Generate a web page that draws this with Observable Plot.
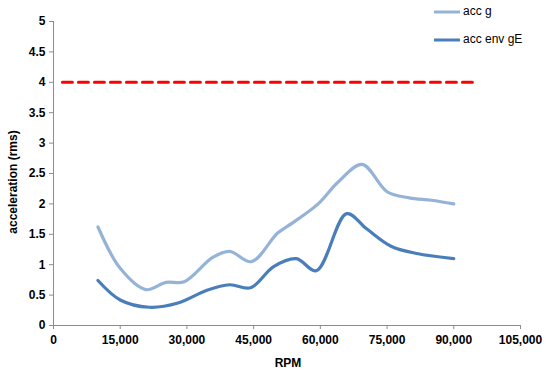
<!DOCTYPE html>
<html>
<head>
<meta charset="utf-8">
<script src="https://cdn.jsdelivr.net/npm/d3@7"></script>
<script src="https://cdn.jsdelivr.net/npm/@observablehq/plot@0.6"></script>
<style>
  html, body { margin: 0; padding: 0; background: #fff; }
  #chart { position: relative; width: 550px; height: 375px; }
  #chart svg { font-family: "Liberation Sans", Arial, sans-serif; }
  #chart svg g[aria-label$="tick label"] text { font-weight: bold; fill: #000; }
</style>
</head>
<body>
<div id="chart"></div>
<script>
// acc g series
const accG_rpm = [10000, 15000, 20750, 25300, 29400, 35800, 39600, 44500, 50400, 54000, 59500, 64000, 69400, 75000, 80000, 85000, 90000];
const accG_val = [1.62, 0.94, 0.59, 0.71, 0.72, 1.12, 1.22, 1.05, 1.52, 1.70, 2.00, 2.36, 2.65, 2.20, 2.10, 2.06, 2.00];
// acc env gE series
const accEnv_rpm = [10000, 15000, 21500, 28000, 34500, 39600, 44300, 49500, 54600, 59100, 65900, 70400, 76000, 82000, 90000];
const accEnv_val = [0.74, 0.42, 0.30, 0.37, 0.58, 0.67, 0.62, 0.97, 1.10, 0.90, 1.84, 1.59, 1.30, 1.18, 1.10];
// limit line
const limit_rpm = [2000, 95000];
const limit_val = [4, 4];

const xTicks = [0, 15000, 30000, 45000, 60000, 75000, 90000, 105000];
const yTicks = [0, 0.5, 1, 1.5, 2, 2.5, 3, 3.5, 4, 4.5, 5];

const seriesNames = ["acc g", "acc env gE"];
const seriesColors = ["#95b3d7", "#4a7ebb"];

const accG = accG_rpm.map((x, i) => ({x, y: accG_val[i]}));
const accEnv = accEnv_rpm.map((x, i) => ({x, y: accEnv_val[i]}));
const limit = limit_rpm.map((x, i) => ({x, y: limit_val[i]}));

const axisColor = "#8c8c8c";

const plot = Plot.plot({
  width: 550,
  height: 375,
  marginLeft: 53,
  marginRight: 30,
  marginTop: 21,
  marginBottom: 50,
  style: {fontSize: "12px", fontFamily: "'Liberation Sans', Arial, sans-serif", background: "#fff", overflow: "visible"},
  x: {domain: [0, 105000]},
  y: {domain: [0, 5]},
  marks: [
    Plot.ruleX([0], {stroke: axisColor, strokeWidth: 1}),
    Plot.ruleY([0], {stroke: axisColor, strokeWidth: 1}),
    Plot.axisX({ticks: xTicks, tickFormat: d3.format(","), tickSize: 4, tickPadding: 6, stroke: axisColor, fill: "#000", fontWeight: "bold", fontSize: 12, label: null}),
    Plot.axisY({ticks: yTicks, tickFormat: d => String(d), tickSize: 4, tickPadding: 4, stroke: axisColor, fill: "#000", fontWeight: "bold", fontSize: 12, label: null}),
    Plot.line(limit, {x: "x", y: "y", stroke: "#ff0000", strokeWidth: 3, strokeDasharray: "10,6"}),
    Plot.line(accG, {x: "x", y: "y", stroke: seriesColors[0], strokeWidth: 3.2, curve: "catmull-rom"}),
    Plot.line(accEnv, {x: "x", y: "y", stroke: seriesColors[1], strokeWidth: 3.2, curve: "catmull-rom"})
  ]
});

document.getElementById("chart").appendChild(plot);

const svg = d3.select(plot);
// axis titles
svg.append("text")
  .attr("transform", "translate(14,182) rotate(-90)")
  .attr("text-anchor", "middle")
  .attr("dominant-baseline", "middle")
  .attr("font-weight", "bold")
  .attr("font-size", 12)
  .attr("fill", "#000")
  .text("acceleration (rms)");
svg.append("text")
  .attr("x", 288)
  .attr("y", 364)
  .attr("text-anchor", "middle")
  .attr("dominant-baseline", "middle")
  .attr("font-weight", "bold")
  .attr("font-size", 12)
  .attr("fill", "#000")
  .text("RPM");

// legend
const legendY = [12, 40];
seriesNames.forEach((name, i) => {
  svg.append("line")
    .attr("x1", 434).attr("x2", 460)
    .attr("y1", legendY[i]).attr("y2", legendY[i])
    .attr("stroke", seriesColors[i]).attr("stroke-width", 3);
  svg.append("text")
    .attr("x", 463).attr("y", legendY[i])
    .attr("text-anchor", "start")
    .attr("dominant-baseline", "middle")
    .attr("font-size", 12)
    .attr("font-weight", "normal")
    .attr("fill", "#000")
    .text(name);
});
</script>
</body>
</html>
